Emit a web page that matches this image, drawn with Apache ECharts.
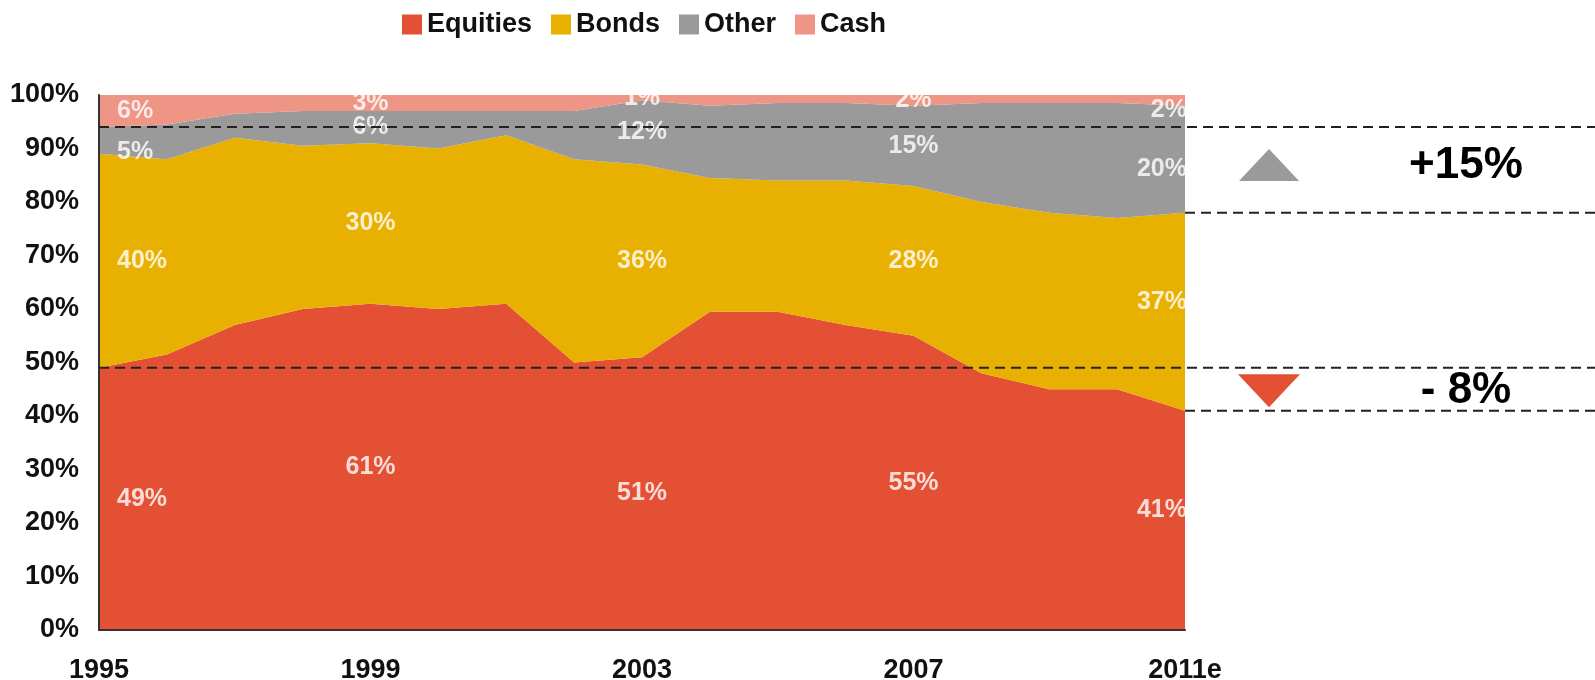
<!DOCTYPE html>
<html>
<head>
<meta charset="utf-8">
<script src="https://cdn.jsdelivr.net/npm/echarts@6/dist/echarts.min.js"></script>
<style>
  html, body { margin: 0; padding: 0; background: #fff; }
  #chart { width: 1595px; height: 680px; }
</style>
</head>
<body>
<div id="chart"></div>
<script>
// categories
const years = ['1995', '1996', '1997', '1998', '1999', '2000', '2001', '2002', '2003',
  '2004', '2005', '2006', '2007', '2008', '2009', '2010', '2011e'];

// asset allocation, % of total
const equities = [49, 51.5, 57, 60, 61, 60, 61, 50, 51, 59.5, 59.5, 57, 55, 48, 45, 45, 41];
const bonds    = [40, 36.5, 35, 30.5, 30, 30, 31.5, 38, 36, 25, 24.5, 27, 28, 32, 33, 32, 37];
const other    = [5, 6.5, 4.5, 6.5, 6, 7, 4.5, 9, 12, 13.5, 14.5, 14.5, 15, 18.5, 20.5, 21.5, 20];
const cash     = [6, 5.5, 3.5, 3, 3, 3, 3, 3, 1, 2, 1.5, 1.5, 2, 1.5, 1.5, 1.5, 2];

// years that carry value labels
const labelIdx = [0, 4, 8, 12, 16];
const yTicks = [0, 10, 20, 30, 40, 50, 60, 70, 80, 90, 100];

const FONT = '"Liberation Sans", Arial, sans-serif';
const last = years.length - 1;

function areaSeries(name, data, color) {
  return {
    name: name,
    type: 'line',
    stack: 'total',
    data: data,
    symbol: 'none',
    lineStyle: { width: 0 },
    itemStyle: { color: color },
    areaStyle: { color: color, opacity: 1 },
    z: 2
  };
}

// labels sit in the middle of each band (small nudges at the edges, as in the slide)
const bands = [equities, bonds, other, cash];
const firstNudge = [0, 0, 12, 0];
const lastNudge = [-10, -10, 10, 10];
const labelData = [];
labelIdx.forEach(i => {
  let base = 0;
  bands.forEach((arr, b) => {
    const v = arr[i];
    const item = { value: [i, base + v / 2, v] };
    if (i === 0) item.label = { align: 'left', offset: [18, firstNudge[b]] };
    if (i === last) item.label = { align: 'right', offset: [2, lastNudge[b]] };
    labelData.push(item);
    base += v;
  });
});

const option = {
  backgroundColor: '#fff',
  animation: false,
  legend: {
    data: ['Equities', 'Bonds', 'Other', 'Cash'],
    icon: 'rect',
    left: 397,
    top: 6,
    itemWidth: 20,
    itemHeight: 20,
    itemGap: 19,
    textStyle: { fontFamily: FONT, fontWeight: 'bold', fontSize: 27, color: '#111' }
  },
  grid: { left: 99, right: 410, top: 95, bottom: 50, containLabel: false, outerBoundsMode: 'none' },
  xAxis: {
    type: 'category',
    data: years,
    boundaryGap: false,
    axisLine: { lineStyle: { color: '#333', width: 2 } },
    axisTick: { show: false },
    axisLabel: {
      interval: 3,
      margin: 27,
      fontFamily: FONT, fontWeight: 'bold', fontSize: 27, color: '#111'
    },
    z: 10
  },
  yAxis: {
    type: 'value',
    min: yTicks[0],
    max: yTicks[yTicks.length - 1],
    interval: 10,
    axisLine: { show: true, lineStyle: { color: '#333', width: 2 } },
    axisTick: { show: false },
    splitLine: { show: false },
    axisLabel: {
      margin: 20,
      formatter: '{value}%',
      fontFamily: FONT, fontWeight: 'bold', fontSize: 27, color: '#111'
    },
    z: 10
  },
  series: [
    areaSeries('Equities', equities, '#E35033'),
    areaSeries('Bonds', bonds, '#E8B000'),
    areaSeries('Other', other, '#9A9A9A'),
    areaSeries('Cash', cash, '#EE9585'),
    {
      name: 'labels',
      type: 'scatter',
      data: labelData,
      symbolSize: 1,
      itemStyle: { color: 'rgba(0,0,0,0)' },
      label: {
        show: true,
        position: 'inside',
        formatter: p => Math.round(p.value[2]) + '%',
        fontFamily: FONT, fontWeight: 'bold', fontSize: 25, color: '#fff'
      },
      z: 5
    }
  ]
};

const chart = echarts.init(document.getElementById('chart'));
chart.setOption(option);

// reference lines and change markers from the data
const px = (i, v) => chart.convertToPixel({ gridIndex: 0 }, [i, v]);
const xLeft = px(0, 0)[0];
const xRight = px(last, 0)[0];
const W = 1595;

const yOtherStart = px(0, equities[0] + bonds[0] + other[0])[1];
const yBondsEnd = px(last, equities[last] + bonds[last])[1];
const yEqStart = px(0, equities[0])[1];
const yEqEnd = px(last, equities[last])[1];

const dash = { stroke: '#222', lineWidth: 2, lineDash: [10, 6] };
function hline(x1, x2, y) {
  return { type: 'line', shape: { x1: x1, y1: y, x2: x2, y2: y }, style: dash, z: 100 };
}

const midUp = (yOtherStart + yBondsEnd) / 2;
const midDn = (yEqStart + yEqEnd) / 2;
const triX = 1269;
const txtX = 1466;

const otherChange = other[last] - other[0];
const eqChange = equities[0] - equities[last];

chart.setOption({
  graphic: [
    hline(xLeft, W, yOtherStart),
    hline(xRight, W, yBondsEnd),
    hline(xLeft, W, yEqStart),
    hline(xRight, W, yEqEnd),
    {
      type: 'polygon', z: 100,
      shape: { points: [[triX, midUp - 21], [triX + 30, midUp + 11], [triX - 30, midUp + 11]] },
      style: { fill: '#9A9A9A' }
    },
    {
      type: 'polygon', z: 100,
      shape: { points: [[triX - 31, midDn - 15], [triX + 31, midDn - 15], [triX, midDn + 18]] },
      style: { fill: '#E35033' }
    },
    {
      type: 'text', z: 100,
      style: {
        text: '+' + otherChange + '%', x: txtX, y: midUp - 4,
        align: 'center', verticalAlign: 'middle',
        font: 'bold 44px ' + FONT, fill: '#000'
      }
    },
    {
      type: 'text', z: 100,
      style: {
        text: '- ' + eqChange + '%', x: txtX, y: midDn + 2,
        align: 'center', verticalAlign: 'middle',
        font: 'bold 44px ' + FONT, fill: '#000'
      }
    }
  ]
});
</script>
</body>
</html>
